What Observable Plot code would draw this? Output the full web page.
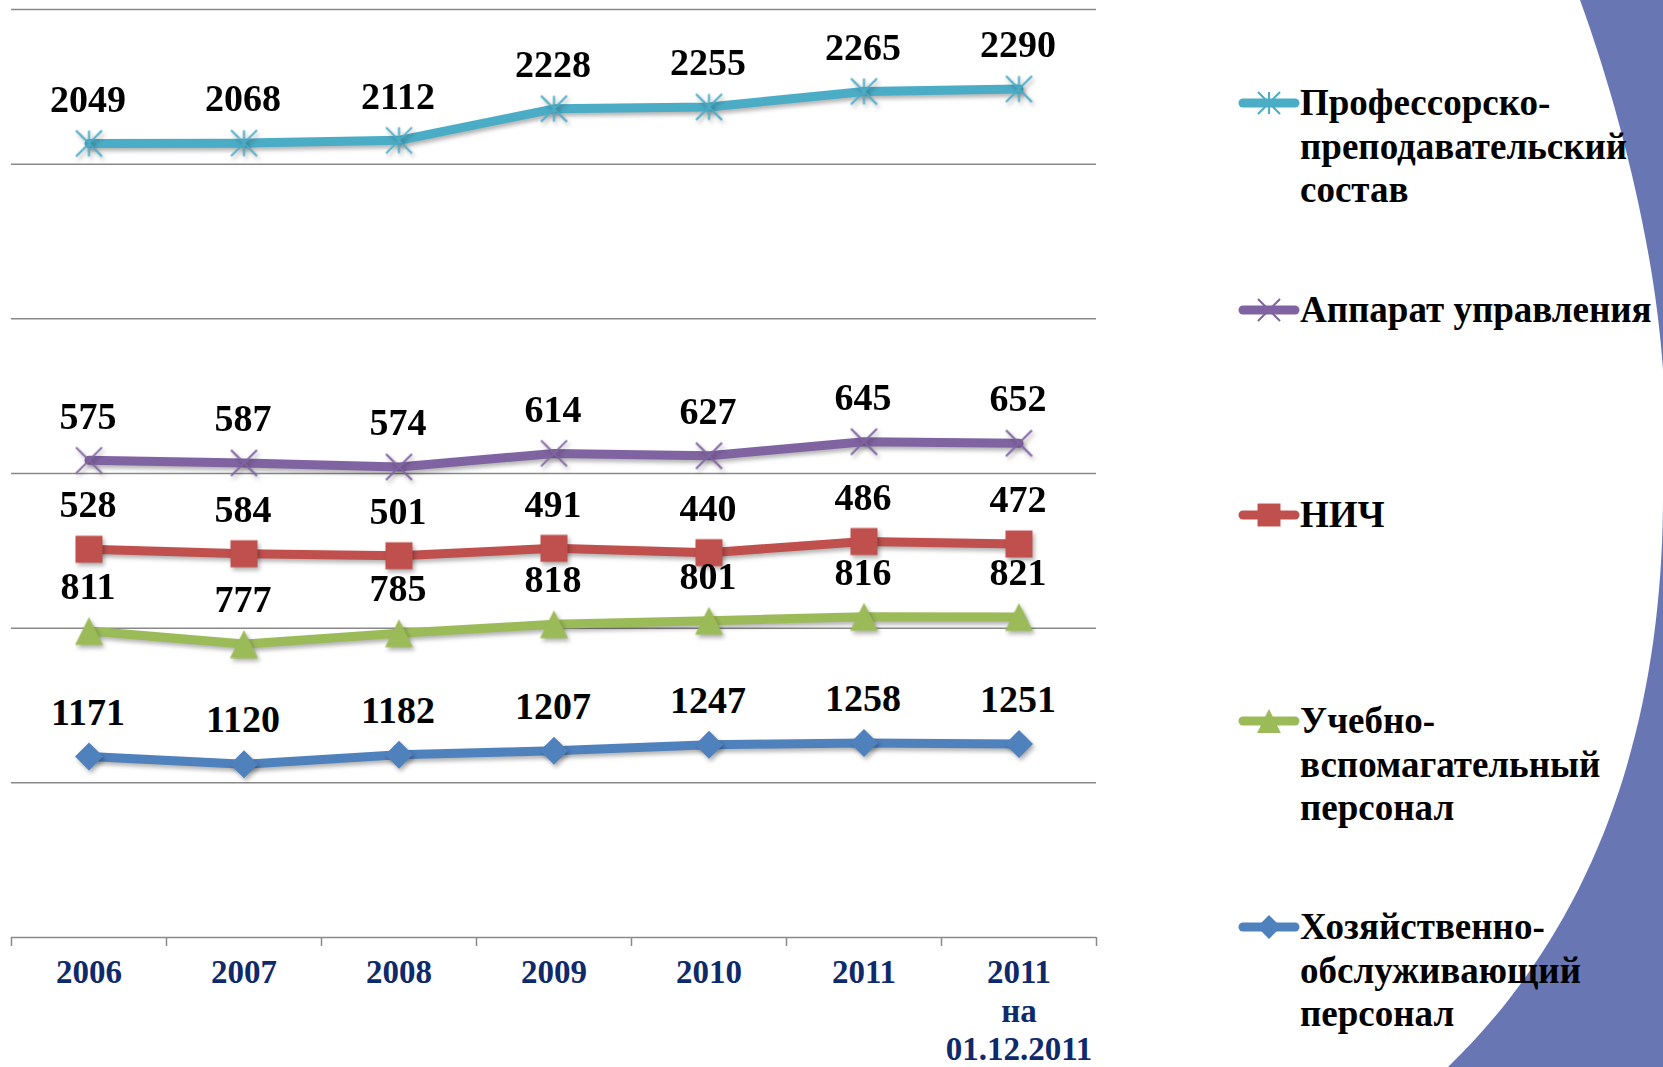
<!DOCTYPE html>
<html><head><meta charset="utf-8">
<script src="https://cdn.jsdelivr.net/npm/d3@7"></script>
<script src="https://cdn.jsdelivr.net/npm/@observablehq/plot@0.6"></script>
<style>
body{margin:0;background:#fff;}
#wrap{position:relative;width:1663px;height:1067px;overflow:hidden;background:#fff;}
#deco{position:absolute;left:0;top:0;}
#chart{position:absolute;left:0;top:0;}
.item{position:absolute;left:1300px;font-family:'Liberation Serif','Times New Roman',serif;font-weight:bold;font-size:37px;line-height:43.5px;color:#000;white-space:nowrap;}
.mk{position:absolute;left:1233px;}
</style></head><body>
<div id="wrap">
<svg id="deco" width="1663" height="1067">
  <path d="M1580,0 C1620,110 1655,250 1663,370 L1663,0 Z" fill="#6877b4"/>
  <path d="M1663,500 C1662,720 1600,920 1448,1067 L1663,1067 Z" fill="#6877b4"/>
</svg>
<div id="chart"></div>
<div id="legend"></div>
</div>
<script>
// ---- data ----
const years = ["2006", "2007", "2008", "2009", "2010", "2011", "2011\nна\n01.12.2011"];
const seriesNames = [
  "Хозяйственно-обслуживающий персонал",
  "Учебно-вспомагательный персонал",
  "НИЧ",
  "Аппарат управления",
  "Профессорско-преподавательский состав"
];
const hoz     = [1171, 1120, 1182, 1207, 1247, 1258, 1251];
const ucheb   = [811, 777, 785, 818, 801, 816, 821];
const nich    = [528, 584, 501, 491, 440, 486, 472];
const apparat = [575, 587, 574, 614, 627, 645, 652];
const pps     = [2049, 2068, 2112, 2228, 2255, 2265, 2290];
const seriesColors = ["#4f81bd", "#9bbb59", "#c0504d", "#8064a2", "#4bacc6"];
const legendLines = [
  ["Хозяйственно-", "обслуживающий", "персонал"],
  ["Учебно-", "вспомагательный", "персонал"],
  ["НИЧ"],
  ["Аппарат управления"],
  ["Профессорско-", "преподавательский", "состав"]
];
const yTicks = [0, 1000, 2000, 3000, 4000, 5000, 6000];

// ---- custom symbols (r = half extent) ----
const mk = f => ({draw(ctx, size) { f(ctx, Math.sqrt(size / Math.PI)); }});
const symDiamond = mk((c, r) => { c.moveTo(0, -r); c.lineTo(r, 0); c.lineTo(0, r); c.lineTo(-r, 0); c.closePath(); });
const symTriangle = mk((c, r) => { c.moveTo(0, -r); c.lineTo(r, r); c.lineTo(-r, r); c.closePath(); });
const symSquare = mk((c, r) => { c.rect(-r, -r, 2 * r, 2 * r); });
const symTimes = mk((c, r) => { c.moveTo(-r, -r); c.lineTo(r, r); c.moveTo(r, -r); c.lineTo(-r, r); });
const symAsterisk = mk((c, r) => { c.moveTo(-r, -r); c.lineTo(r, r); c.moveTo(r, -r); c.lineTo(-r, r); c.moveTo(0, -r); c.lineTo(0, r); });
const symbols = [symDiamond, symTriangle, symSquare, symTimes, symAsterisk];
const symFilled = [true, true, true, false, false];
const symR = [14, 14, 13.5, 13, 13];

// ---- derived stacked table ----
const valuesBySeries = [hoz, ucheb, nich, apparat, pps];
const rows = [];
years.forEach((y, i) => {
  let cum = 0;
  valuesBySeries.forEach((vals, s) => {
    cum += vals[i];
    rows.push({pos: i + 0.5, year: y, series: seriesNames[s], si: s, value: vals[i], cum});
  });
});

const font = "'Liberation Serif','Times New Roman',serif";
const navy = "#0f2a6b";

const dotMarks = seriesNames.map((name, s) => Plot.dot(rows.filter(d => d.si === s), {
  x: "pos", y: "cum", symbol: symbols[s], r: symR[s],
  fill: symFilled[s] ? seriesColors[s] : "none",
  stroke: seriesColors[s], strokeWidth: symFilled[s] ? 0 : 2
}));

const chart = Plot.plot({
  width: 1110, height: 1067,
  marginLeft: 11, marginRight: 14, marginTop: 9, marginBottom: 130,
  x: {domain: [0, 7], axis: null},
  y: {domain: [0, 6000], axis: null},
  color: {domain: seriesNames, range: seriesColors},
  style: {background: "transparent", fontFamily: font, fontWeight: "bold", overflow: "visible"},
  marks: [
    Plot.gridY(yTicks, {stroke: "#8a8a8a", strokeOpacity: 1, strokeWidth: 1.5}),
    Plot.axisX(d3.range(0, 8), {tickSize: 9, tickFormat: () => "", label: null, stroke: "#8a8a8a", strokeWidth: 1.5}),
    Plot.axisX(years.map((y, i) => i + 0.5), {
      tickSize: 0, tickPadding: 18, label: null, tickFormat: d => years[Math.round(d - 0.5)],
      fill: navy, fontSize: 33, fontWeight: "bold", lineHeight: 1.17
    }),
    Plot.lineY(rows, {x: "pos", y: "cum", z: "series", stroke: "series", strokeWidth: 9, strokeLinejoin: "round", strokeLinecap: "round"}),
    ...dotMarks,
    Plot.text(rows, {x: "pos", y: "cum", text: d => String(d.value), dy: -44, dx: -1, fontSize: 38, fontWeight: "bold", fill: "#000"})
  ]
});
chart.querySelectorAll('g[aria-label="line"], g[aria-label="dot"]').forEach(g => {
  g.style.filter = "drop-shadow(2px 3px 2px rgba(0,0,0,0.3))";
});
document.getElementById("chart").appendChild(chart);

// ---- legend ----
const legendY = [927, 721, 515, 310, 103];
const legend = d3.select("#legend");
seriesNames.forEach((name, s) => {
  const cy = legendY[s];
  const svg = legend.append("svg").attr("class", "mk")
    .attr("width", 72).attr("height", 40)
    .style("top", (cy - 20) + "px");
  svg.append("line").attr("x1", 10).attr("x2", 62).attr("y1", 20).attr("y2", 20)
    .attr("stroke", seriesColors[s]).attr("stroke-width", 9).attr("stroke-linecap", "round");
  svg.append("path")
    .attr("transform", "translate(36,20)")
    .attr("d", d3.symbol(symbols[s], Math.PI * Math.pow(symR[s] * 0.85, 2))())
    .attr("fill", symFilled[s] ? seriesColors[s] : "none")
    .attr("stroke", seriesColors[s]).attr("stroke-width", symFilled[s] ? 0 : 2);
  legend.append("div").attr("class", "item")
    .style("top", (cy - 22) + "px")
    .html(legendLines[s].join("<br>"));
});
</script>
</body></html>
